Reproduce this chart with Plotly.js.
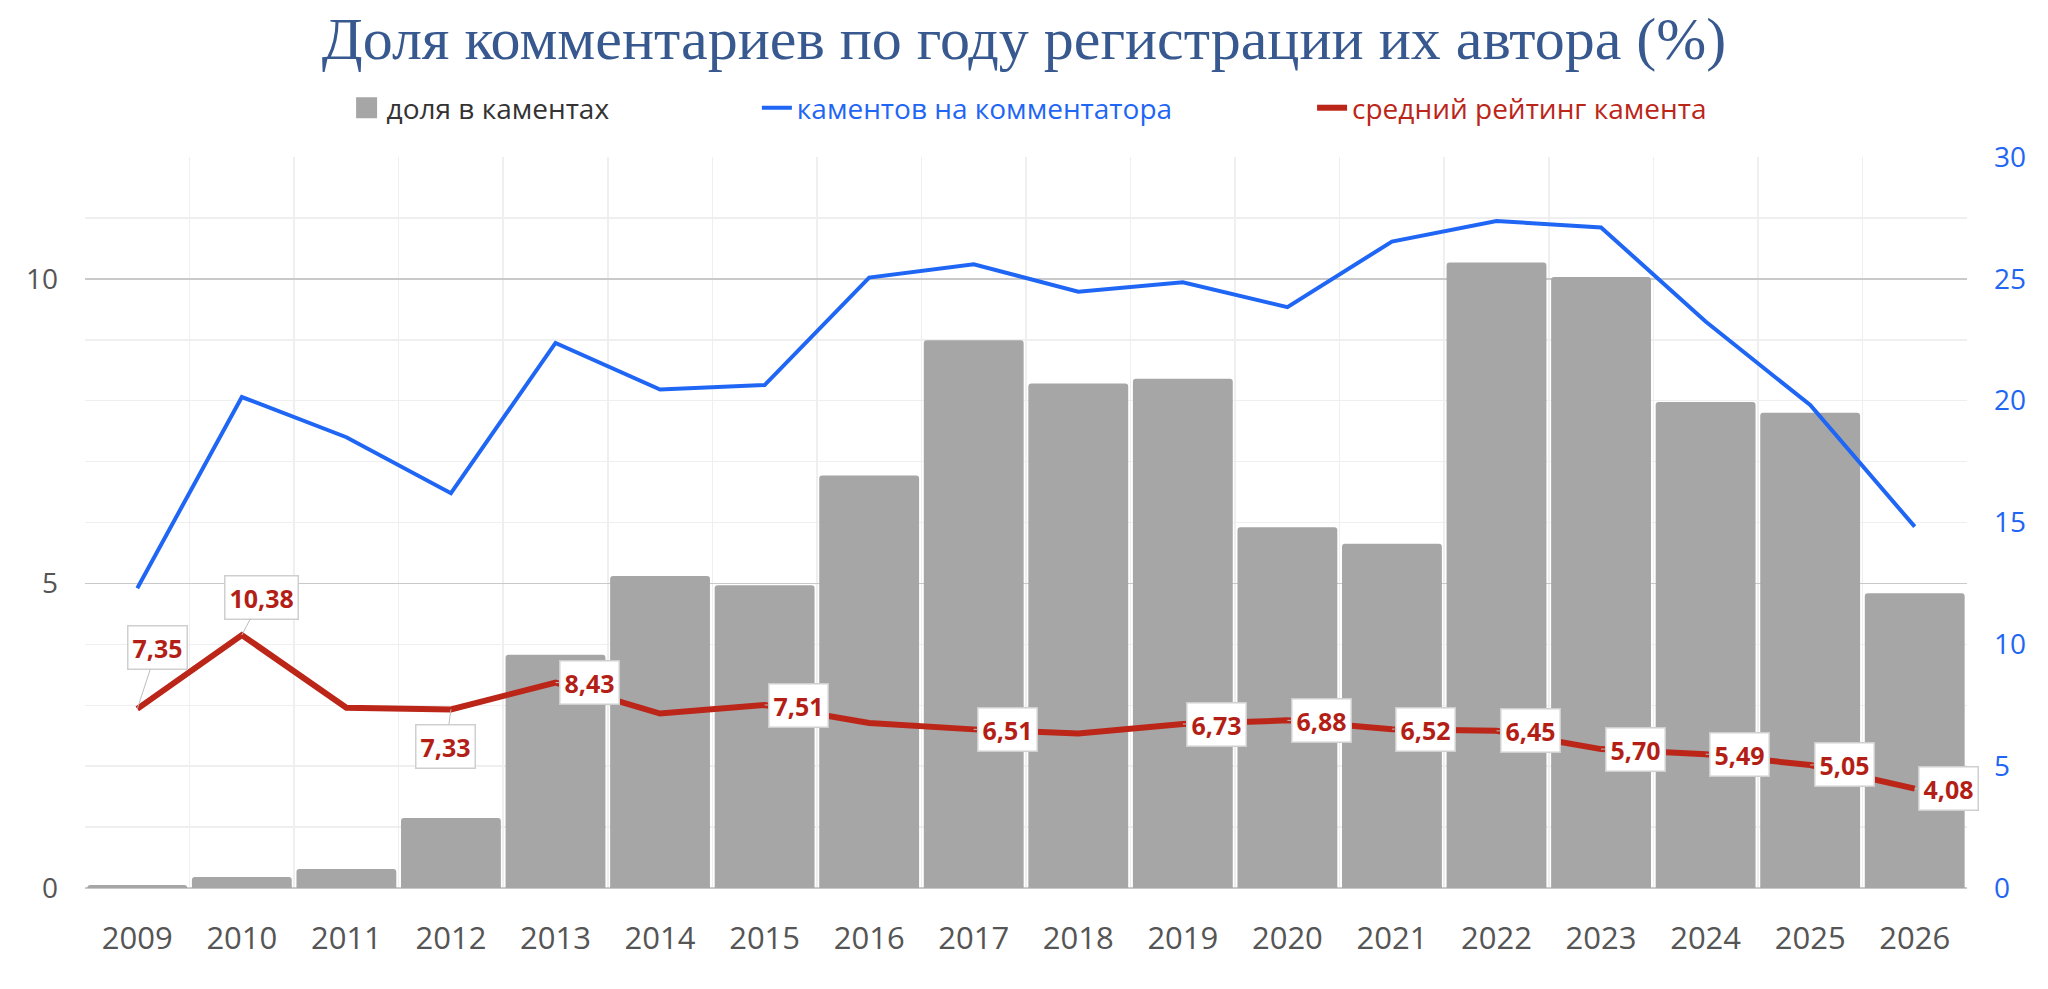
<!DOCTYPE html>
<html>
<head>
<meta charset="utf-8">
<script src="https://cdn.plot.ly/plotly-3.0.1.min.js"></script>
<style>
  html, body { margin: 0; padding: 0; background: #fff; }
  #chart { width: 2048px; height: 989px; }
</style>
</head>
<body>
<div id="chart"></div>
<script>
// данные по годам регистрации
const years = ['2009', '2010', '2011', '2012', '2013', '2014', '2015', '2016', '2017',
               '2018', '2019', '2020', '2021', '2022', '2023', '2024', '2025', '2026'];
const shareInComments = [0.05, 0.18, 0.31, 1.15, 3.83, 5.12, 4.97, 6.77, 8.99,
                         8.28, 8.36, 5.92, 5.65, 10.27, 10.03, 7.98, 7.80, 4.84];
const commentsPerAuthor = [12.3, 20.15, 18.5, 16.2, 22.37, 20.46, 20.64, 25.05, 25.6,
                           24.47, 24.86, 23.84, 26.53, 27.37, 27.11, 23.25, 19.82, 14.83];
const avgRating = [7.35, 10.38, 7.40, 7.33, 8.43, 7.16, 7.51, 6.77, 6.51,
                   6.34, 6.73, 6.88, 6.52, 6.45, 5.70, 5.49, 5.05, 4.08];
const labelledYears = ['2009', '2010', '2012', '2013', '2015', '2017', '2019', '2020',
                       '2021', '2022', '2023', '2024', '2025', '2026'];

const GREY = '#a6a6a6';
const BLUE = '#1f66f5';
const RED = '#bb2619';
const FONT = '"Open Sans", "Noto Sans", sans-serif';

// смещения выносок (по умолчанию справа от точки)
const calloutOffset = {
    '2009': [20, -61],
    '2010': [20, -38],
    '2012': [-5, 37]
};

const traces = [
    {
        x: years, y: shareInComments, type: 'bar', name: 'доля в каментах',
        marker: { color: GREY, cornerradius: 3, line: { width: 0 } },
        yaxis: 'y', showlegend: false
    },
    {
        // только для легенды: крупный квадрат
        x: [null], y: [null], type: 'scatter', mode: 'markers', name: 'доля в каментах',
        marker: { color: GREY, symbol: 'square', size: 16, line: { color: GREY, width: 5 } },
        yaxis: 'y', legend: 'legend'
    },
    {
        x: years, y: commentsPerAuthor, type: 'scatter', mode: 'lines', name: 'каментов на комментатора',
        line: { color: BLUE, width: 4 }, yaxis: 'y2', legend: 'legend2'
    },
    {
        x: years, y: avgRating, type: 'scatter', mode: 'lines', name: 'средний рейтинг камента',
        line: { color: RED, width: 6 }, yaxis: 'y2', legend: 'legend3'
    }
];

const annotations = labelledYears.map(yr => {
    const i = years.indexOf(yr);
    const off = calloutOffset[yr] || [34, 0];
    return {
        x: i, y: avgRating[i], xref: 'x', yref: 'y2',
        text: avgRating[i].toFixed(2).replace('.', ','),
        showarrow: true, arrowhead: 0, arrowwidth: 1, arrowcolor: '#bdbdbd',
        ax: off[0], ay: off[1],
        bgcolor: '#ffffff', bordercolor: '#cfcfcf', borderwidth: 1.5, borderpad: 4,
        font: { family: FONT, size: 25, color: '#b31f16', weight: 'bold' }
    };
});

const legendBase = {
    orientation: 'h', xanchor: 'left', yanchor: 'middle', y: 1.067,
    bgcolor: 'rgba(0,0,0,0)', borderwidth: 0
};

const layout = {
    width: 2048, height: 989,
    margin: { l: 85, r: 81, t: 157, b: 101 },
    paper_bgcolor: '#ffffff', plot_bgcolor: '#ffffff',
    title: {
        text: 'Доля комментариев по году регистрации их автора (%)',
        x: 0.5, xanchor: 'center', y: 0.962, yanchor: 'middle', yref: 'container',
        font: { family: '"Liberation Serif", "DejaVu Serif", serif', size: 60, color: '#38598f' }
    },
    bargap: 0.045,
    xaxis: {
        type: 'category', range: [-0.5, 17.5], tickson: 'boundaries', ticks: '',
        showgrid: true, gridcolor: '#efefef', gridwidth: 1.5, tickangle: 0,
        tickfont: { family: FONT, size: 31, color: '#555555' },
        ticklabelstandoff: 29, fixedrange: true
    },
    yaxis: {
        range: [0, 12], tick0: 0, dtick: 5, ticks: '',
        showgrid: true, gridcolor: '#c9c9c9', gridwidth: 1.5,
        minor: { dtick: 1, showgrid: true, gridcolor: '#efefef', gridwidth: 1.5 },
        zeroline: true, zerolinecolor: '#c9c9c9', zerolinewidth: 2,
        tickfont: { family: FONT, size: 28, color: '#555555' },
        ticklabelstandoff: 26, fixedrange: true
    },
    yaxis2: {
        overlaying: 'y', side: 'right', range: [0, 30], tick0: 0, dtick: 5, ticks: '',
        showgrid: false, zeroline: false,
        tickfont: { family: FONT, size: 28, color: BLUE },
        ticklabelstandoff: 26, fixedrange: true
    },
    legend: Object.assign({}, legendBase, { x: 0.139, font: { family: FONT, size: 28, color: '#333333' } }),
    legend2: Object.assign({}, legendBase, { x: 0.357, font: { family: FONT, size: 28, color: BLUE } }),
    legend3: Object.assign({}, legendBase, { x: 0.652, font: { family: FONT, size: 28, color: RED } }),
    annotations: annotations,
    showlegend: true
};

Plotly.newPlot('chart', traces, layout, { displayModeBar: false, staticPlot: true });
</script>
</body>
</html>
